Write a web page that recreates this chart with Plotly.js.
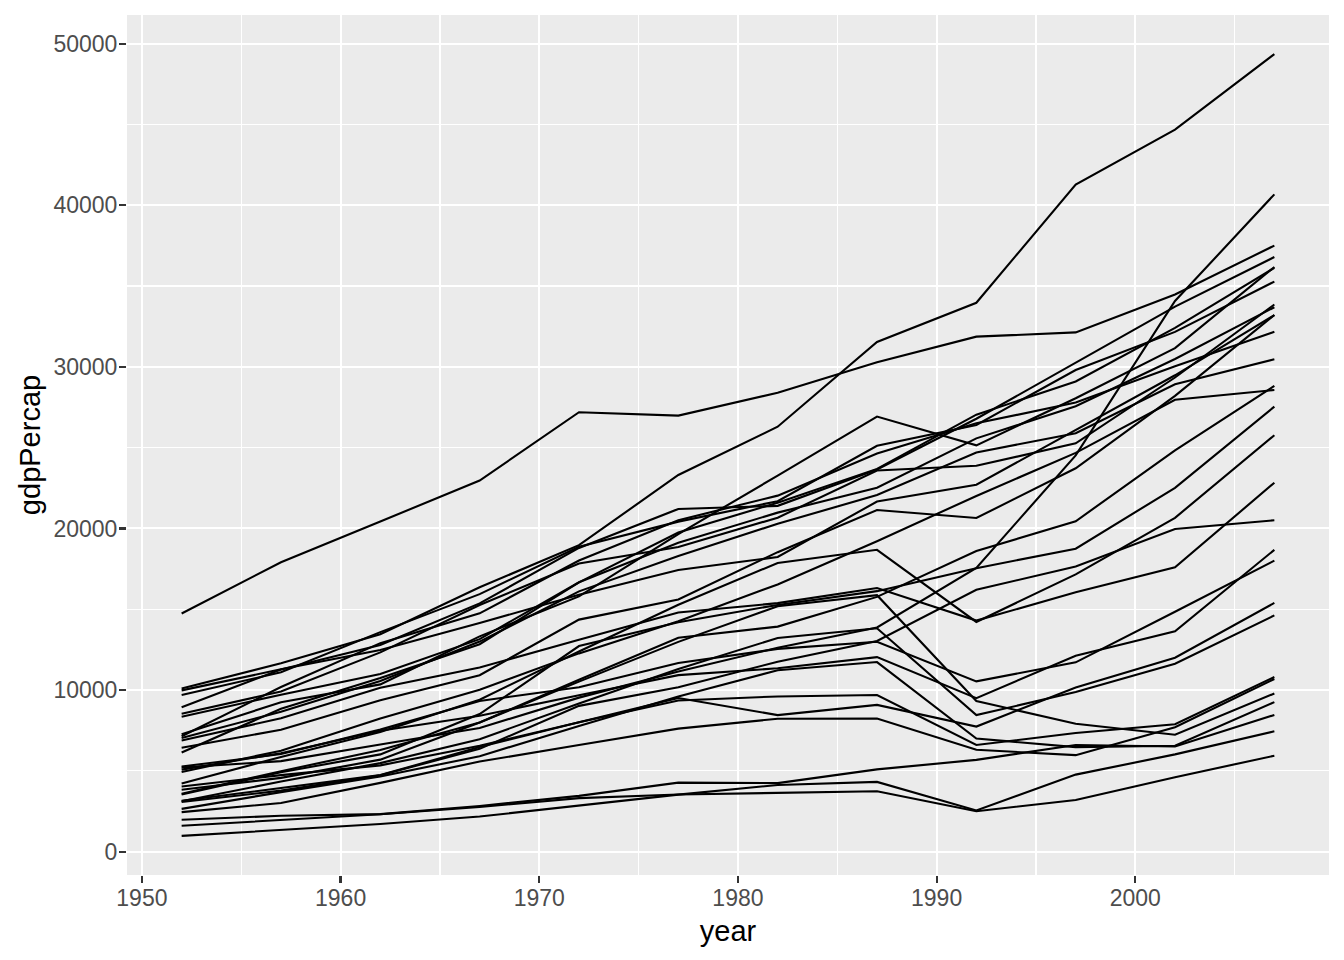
<!DOCTYPE html>
<html>
<head>
<meta charset="utf-8">
<script src="https://cdn.plot.ly/plotly-3.0.1.min.js"></script>
<style>html,body{margin:0;padding:0;background:#fff;}#chart{width:1344px;height:960px;}</style>
</head>
<body>
<div id="chart"></div>
<script>
const years = [1952, 1957, 1962, 1967, 1972, 1977, 1982, 1987, 1992, 1997, 2002, 2007];
const albania = [1601.1, 1942.3, 2312.9, 2760.2, 3313.4, 3533.0, 3630.9, 3738.9, 2497.4, 3193.1, 4604.2, 5937.0];
const austria = [6137.1, 8842.6, 10750.7, 12834.6, 16661.6, 19749.4, 21597.1, 23687.8, 27042.0, 29095.9, 32417.6, 36126.5];
const belgium = [8343.1, 9715.0, 10991.2, 13149.0, 16672.1, 19118.0, 20979.8, 22525.6, 25575.6, 27561.2, 30485.9, 33692.6];
const bosnia = [973.5, 1354.0, 1709.7, 2172.4, 2860.2, 3528.5, 4126.6, 4314.1, 2546.8, 4766.4, 6019.0, 7446.3];
const bulgaria = [2444.3, 3008.7, 4254.3, 5577.0, 6597.5, 7612.2, 8224.2, 8239.9, 6302.6, 5970.4, 7696.8, 10680.8];
const croatia = [3119.2, 4338.2, 5477.9, 6960.3, 9164.1, 11305.4, 13221.8, 13822.6, 8447.8, 9875.6, 11628.4, 14619.2];
const czech = [6876.1, 8256.3, 10136.9, 11399.4, 13108.5, 14800.2, 15377.2, 16310.4, 14297.0, 16048.5, 17596.2, 22833.3];
const denmark = [9692.4, 11099.7, 13583.3, 15937.2, 18866.2, 20422.9, 21688.0, 25116.2, 26406.7, 29804.3, 32166.5, 35278.4];
const finland = [6424.5, 7545.4, 9371.8, 10921.6, 14358.9, 15605.4, 18533.2, 21141.0, 20647.2, 23724.0, 28204.6, 33207.1];
const france = [7029.8, 8662.8, 10560.5, 12999.9, 16107.2, 18292.6, 20293.9, 22066.4, 24703.8, 25889.8, 28926.0, 30470.0];
const germany = [7144.1, 10187.8, 12902.5, 14745.6, 18016.2, 20512.9, 22031.5, 24639.2, 26505.3, 27788.9, 30035.8, 32170.4];
const greece = [3530.7, 4916.3, 6017.2, 8513.1, 12724.8, 14195.5, 15268.4, 16120.5, 17541.5, 18747.7, 22514.3, 27538.4];
const hungary = [5263.7, 6040.2, 7550.4, 9326.6, 10168.7, 11674.8, 12546.0, 12986.5, 10535.6, 11712.8, 14843.9, 18008.9];
const iceland = [7267.7, 9244.0, 10350.2, 13319.9, 15798.1, 19655.0, 23269.6, 26923.2, 25144.4, 28061.1, 31163.2, 36180.8];
const ireland = [5210.3, 5599.1, 6631.6, 7655.6, 9530.8, 11151.0, 12618.3, 13872.9, 17558.8, 24521.9, 34077.0, 40676.0];
const italy = [4931.4, 6248.7, 8243.6, 10022.4, 12269.3, 14256.0, 16537.5, 19207.2, 22013.6, 24675.0, 27968.1, 28569.7];
const montenegro = [2647.6, 3682.3, 4649.6, 5907.9, 7778.4, 9595.9, 11222.6, 11732.5, 7003.3, 6465.6, 6557.2, 9253.9];
const netherlands = [8941.6, 11276.2, 12790.8, 15363.3, 18794.7, 21209.1, 21399.5, 23651.3, 26791.0, 30246.1, 33724.8, 36797.9];
const norway = [10095.4, 11654.0, 13450.4, 16361.9, 18965.1, 23311.3, 26298.6, 31541.0, 33965.7, 41283.2, 44684.0, 49357.2];
const poland = [4029.3, 4734.3, 5338.8, 6557.2, 8006.5, 9508.1, 8451.5, 9082.4, 7738.9, 10159.6, 12002.2, 15389.9];
const portugal = [3068.3, 3774.6, 4728.0, 6361.5, 9022.2, 10172.5, 11753.8, 13039.3, 16207.3, 17641.0, 19970.9, 20509.6];
const romania = [3144.6, 3943.4, 4735.0, 6470.9, 8011.4, 9356.4, 9605.3, 9696.3, 6598.4, 7346.5, 7885.4, 10808.5];
const serbia = [3581.5, 4981.1, 6289.6, 7991.7, 10522.1, 12980.7, 15181.1, 15870.9, 9325.1, 7914.3, 7236.1, 9786.5];
const slovakia = [5074.7, 6093.3, 7481.1, 8412.9, 9674.2, 10922.7, 11348.5, 12037.3, 9498.5, 12126.2, 13638.8, 18678.3];
const slovenia = [4215.0, 5862.3, 7402.3, 9405.5, 12383.5, 15277.0, 17866.7, 18678.5, 14214.7, 17161.1, 20660.0, 25768.3];
const spain = [3834.0, 4564.8, 5693.8, 7993.5, 10638.8, 13236.9, 13926.2, 15765.0, 18603.1, 20445.3, 24835.5, 28821.1];
const sweden = [8527.8, 9911.9, 12329.4, 15258.3, 17832.0, 18855.7, 20667.4, 23586.9, 23880.0, 25266.6, 29341.6, 33859.7];
const switzerland = [14734.2, 17909.5, 20431.1, 22966.1, 27195.1, 26982.3, 28397.7, 30281.7, 31871.5, 32135.3, 34481.0, 37506.4];
const turkey = [1969.1, 2218.8, 2322.9, 2826.4, 3450.7, 4269.1, 4241.4, 5089.0, 5678.3, 6601.4, 6508.1, 8458.3];
const unitedKingdom = [9979.5, 11283.2, 12477.2, 14142.9, 15895.1, 17428.7, 18232.4, 21664.8, 22705.1, 26074.5, 29479.0, 33203.3];

const countries = ["Albania","Austria","Belgium","Bosnia and Herzegovina","Bulgaria","Croatia","Czech Republic","Denmark","Finland","France","Germany","Greece","Hungary","Iceland","Ireland","Italy","Montenegro","Netherlands","Norway","Poland","Portugal","Romania","Serbia","Slovak Republic","Slovenia","Spain","Sweden","Switzerland","Turkey","United Kingdom"];
const series = [albania, austria, belgium, bosnia, bulgaria, croatia, czech, denmark, finland, france, germany, greece, hungary, iceland, ireland, italy, montenegro, netherlands, norway, poland, portugal, romania, serbia, slovakia, slovenia, spain, sweden, switzerland, turkey, unitedKingdom];

const traces = series.map((vals, i) => ({
  type: 'scatter', mode: 'lines', x: years, y: vals, name: countries[i],
  line: {color: '#000000', width: 2.1}, hoverinfo: 'x+y+name'
}));

const tickFont = {family: 'Liberation Sans, Arial, sans-serif', size: 23, color: '#4D4D4D'};
const titleFont = {family: 'Liberation Sans, Arial, sans-serif', size: 29, color: '#000000'};

const layout = {
  width: 1344, height: 960,
  paper_bgcolor: '#FFFFFF', plot_bgcolor: '#EBEBEB',
  showlegend: false,
  margin: {l: 127, r: 15, t: 15, b: 85},
  xaxis: {
    range: [1949.25, 2009.75], tickvals: [1950, 1960, 1970, 1980, 1990, 2000],
    showgrid: true, gridcolor: '#FFFFFF', gridwidth: 2,
    minor: {tickvals: [1955, 1965, 1975, 1985, 1995, 2005], showgrid: true, gridcolor: '#FFFFFF', gridwidth: 1.2, ticks: ''},
    zeroline: false, showline: false,
    ticks: 'outside', ticklen: 7, tickwidth: 2.2, tickcolor: '#333333',
    ticklabelstandoff: -5,
    tickfont: tickFont,
    title: {text: 'year', font: titleFont, standoff: 11}
  },
  yaxis: {
    range: [-1446, 51776], tickvals: [0, 10000, 20000, 30000, 40000, 50000],
    tickformat: 'd',
    showgrid: true, gridcolor: '#FFFFFF', gridwidth: 2,
    minor: {tickvals: [5000, 15000, 25000, 35000, 45000], showgrid: true, gridcolor: '#FFFFFF', gridwidth: 1.2, ticks: ''},
    zeroline: false, showline: false,
    ticks: 'outside', ticklen: 7, tickwidth: 2.2, tickcolor: '#333333',
    ticklabelstandoff: -3,
    tickfont: tickFont,
    title: {text: 'gdpPercap', font: titleFont, standoff: 4}
  }
};

Plotly.newPlot('chart', traces, layout, {displayModeBar: false, staticPlot: true});
</script>
</body>
</html>
